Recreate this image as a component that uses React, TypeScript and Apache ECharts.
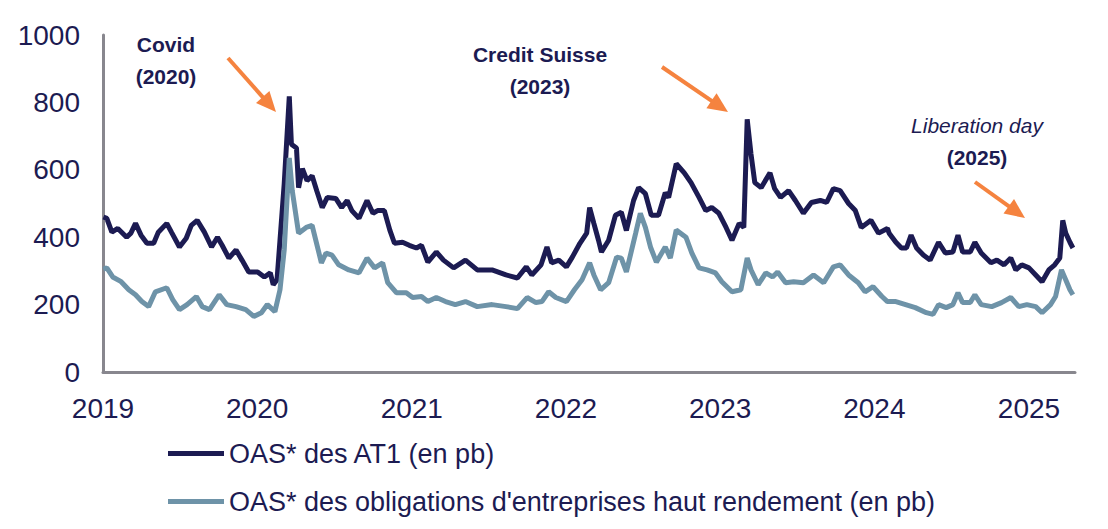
import React, { useEffect, useRef } from "react";
import * as echarts from "echarts";

const NAVY = "#1c1b52";
const SLATE = "#6e93a8";
const ORANGE = "#f5833f";
const AXIS_GREY = "#88878e";
const FONT = "'Liberation Sans', Arial, sans-serif";

const seriesNames = [
  "OAS* des AT1 (en pb)",
  "OAS* des obligations d'entreprises haut rendement (en pb)",
];

const yearTicks = [2019, 2020, 2021, 2022, 2023, 2024, 2025];
const axisStart = "2019-01-01";
const axisEnd = "2025-04-20";

const at1Dates = [
  "2019-01-02", "2019-01-10", "2019-01-22", "2019-02-05", "2019-02-26", "2019-03-08", "2019-03-19", "2019-04-01",
  "2019-04-15", "2019-05-01", "2019-05-12", "2019-06-01", "2019-06-12", "2019-07-01", "2019-07-17", "2019-07-29",
  "2019-08-12", "2019-08-29", "2019-09-15", "2019-09-29", "2019-10-10", "2019-10-26", "2019-11-12", "2019-11-26",
  "2019-12-12", "2020-01-02", "2020-01-18", "2020-02-01", "2020-02-08", "2020-02-17", "2020-02-24", "2020-03-05",
  "2020-03-17", "2020-03-22", "2020-04-03", "2020-04-08", "2020-04-17", "2020-04-28", "2020-05-10", "2020-05-21",
  "2020-06-03", "2020-06-15", "2020-07-05", "2020-07-19", "2020-08-01", "2020-08-12", "2020-08-29", "2020-09-17",
  "2020-10-01", "2020-10-12", "2020-10-28", "2020-11-10", "2020-11-21", "2020-12-10", "2020-12-26", "2021-01-12",
  "2021-01-24", "2021-02-08", "2021-02-28", "2021-03-17", "2021-04-10", "2021-05-08", "2021-06-05", "2021-07-10",
  "2021-08-12", "2021-09-08", "2021-09-29", "2021-10-12", "2021-11-03", "2021-11-17", "2021-11-28", "2021-12-15",
  "2022-01-02", "2022-01-16", "2022-02-03", "2022-02-19", "2022-02-26", "2022-03-08", "2022-03-19", "2022-03-26",
  "2022-04-12", "2022-04-28", "2022-05-12", "2022-05-24", "2022-06-10", "2022-06-22", "2022-07-08", "2022-07-22",
  "2022-08-08", "2022-08-24", "2022-09-01", "2022-09-19", "2022-10-08", "2022-10-24", "2022-11-12", "2022-11-28",
  "2022-12-12", "2022-12-29", "2023-01-15", "2023-01-29", "2023-02-15", "2023-02-26", "2023-03-06", "2023-03-15",
  "2023-03-24", "2023-04-08", "2023-04-29", "2023-05-10", "2023-05-24", "2023-06-12", "2023-06-28", "2023-07-17",
  "2023-08-05", "2023-08-26", "2023-09-10", "2023-09-26", "2023-10-12", "2023-11-01", "2023-11-17", "2023-12-01",
  "2023-12-24", "2024-01-11", "2024-02-01", "2024-02-05", "2024-02-21", "2024-03-05", "2024-03-17", "2024-03-28",
  "2024-04-10", "2024-04-26", "2024-05-12", "2024-06-01", "2024-06-17", "2024-07-05", "2024-07-17", "2024-07-28",
  "2024-08-15", "2024-08-26", "2024-09-10", "2024-10-03", "2024-10-17", "2024-11-03", "2024-11-19", "2024-12-01",
  "2024-12-15", "2025-01-01", "2025-01-17", "2025-02-01", "2025-02-17", "2025-03-03", "2025-03-15", "2025-03-22",
  "2025-03-29", "2025-04-08", "2025-04-15",
];
const at1Values = [
  460, 456, 415, 426, 400, 412, 441, 406,
  382, 382, 415, 441, 415, 371, 397, 435,
  450, 415, 371, 400, 376, 338, 362, 332,
  297, 297, 282, 294, 259, 274, 391, 559,
  818, 676, 665, 547, 603, 568, 582, 538,
  488, 518, 515, 488, 509, 479, 456, 509,
  471, 479, 479, 421, 382, 385, 376, 368,
  376, 326, 356, 332, 309, 332, 303, 303,
  288, 279, 312, 288, 318, 371, 324, 332,
  312, 341, 382, 412, 488, 441, 391, 356,
  391, 465, 474, 420, 509, 547, 529, 465,
  465, 532, 518, 618, 591, 562, 518, 479,
  488, 471, 429, 391, 441, 429, 750, 647,
  562, 547, 591, 544, 518, 538, 509, 471,
  503, 509, 503, 544, 538, 500, 479, 429,
  450, 412, 426, 412, 385, 368, 368, 406,
  368, 347, 332, 385, 353, 356, 406, 356,
  356, 385, 353, 324, 332, 318, 338, 303,
  318, 309, 288, 268, 303, 318, 338, 450,
  412, 385, 368,
];

const hyDates = [
  "2019-01-02", "2019-01-10", "2019-01-24", "2019-02-13", "2019-03-03", "2019-03-19", "2019-04-03", "2019-04-19",
  "2019-05-05", "2019-06-01", "2019-06-15", "2019-07-01", "2019-07-19", "2019-08-10", "2019-08-24", "2019-09-10",
  "2019-10-03", "2019-10-21", "2019-11-12", "2019-12-05", "2019-12-24", "2020-01-11", "2020-01-25", "2020-02-12",
  "2020-02-24", "2020-03-05", "2020-03-17", "2020-03-24", "2020-04-08", "2020-04-26", "2020-05-10", "2020-06-01",
  "2020-06-12", "2020-06-26", "2020-07-12", "2020-08-05", "2020-08-29", "2020-09-17", "2020-10-05", "2020-10-24",
  "2020-11-05", "2020-11-26", "2020-12-19", "2021-01-03", "2021-01-24", "2021-02-08", "2021-02-28", "2021-03-22",
  "2021-04-14", "2021-05-08", "2021-06-05", "2021-07-10", "2021-08-12", "2021-09-08", "2021-10-01", "2021-10-22",
  "2021-11-05", "2021-11-21", "2021-12-08", "2022-01-02", "2022-01-21", "2022-02-08", "2022-02-26", "2022-03-08",
  "2022-03-24", "2022-04-12", "2022-05-01", "2022-05-12", "2022-05-24", "2022-06-15", "2022-06-26", "2022-07-08",
  "2022-07-20", "2022-08-03", "2022-08-24", "2022-09-05", "2022-09-19", "2022-10-12", "2022-10-26", "2022-11-12",
  "2022-12-01", "2022-12-21", "2023-01-05", "2023-01-29", "2023-02-19", "2023-03-06", "2023-03-15", "2023-04-01",
  "2023-04-19", "2023-05-05", "2023-05-17", "2023-06-05", "2023-06-24", "2023-07-17", "2023-08-10", "2023-09-03",
  "2023-09-26", "2023-10-12", "2023-11-01", "2023-11-24", "2023-12-10", "2023-12-29", "2024-01-19", "2024-02-01",
  "2024-02-21", "2024-03-15", "2024-04-07", "2024-05-03", "2024-05-19", "2024-06-01", "2024-06-19", "2024-07-05",
  "2024-07-17", "2024-07-28", "2024-08-15", "2024-08-26", "2024-09-10", "2024-10-05", "2024-10-28", "2024-11-19",
  "2024-12-08", "2024-12-27", "2025-01-17", "2025-02-01", "2025-02-21", "2025-03-05", "2025-03-19", "2025-03-29",
  "2025-04-08", "2025-04-15",
];
const hyValues = [
  305, 309, 282, 268, 244, 229, 209, 194,
  238, 250, 215, 185, 200, 224, 194, 185,
  229, 200, 194, 185, 165, 176, 200, 179,
  244, 362, 635, 538, 412, 429, 435, 324,
  353, 347, 318, 303, 294, 338, 309, 324,
  265, 235, 235, 221, 224, 209, 221, 209,
  200, 209, 194, 200, 194, 188, 221, 206,
  209, 238, 221, 209, 244, 274, 324, 288,
  244, 265, 341, 338, 297, 412, 471, 429,
  371, 326, 371, 338, 421, 400, 353, 309,
  303, 294, 268, 238, 244, 338, 303, 259,
  294, 282, 297, 265, 268, 265, 288, 265,
  312, 318, 288, 265, 238, 253, 224, 209,
  209, 200, 191, 176, 171, 200, 191, 200,
  235, 206, 206, 229, 200, 194, 206, 221,
  194, 200, 194, 176, 200, 224, 303, 274,
  244, 229,
];

const annotations = [
  { lines: ["Covid", "(2020)"], italic: false, cx: 166, cy: 44, arrow: [228, 58, 276, 112] },
  { lines: ["Credit Suisse", "(2023)"], italic: false, cx: 540, cy: 54, arrow: [662, 67, 728, 112] },
  { lines: ["Liberation day", "(2025)"], italic: true, cx: 977, cy: 125, arrow: [975, 182, 1025, 218] },
];

function ts(d: string): number {
  const [y, m, day] = d.split("-").map(Number);
  return Date.UTC(y, m - 1, day);
}

function buildGraphics() {
  const els: any[] = [];
  annotations.forEach((a) => {
    a.lines.forEach((t, i) => {
      els.push({
        type: "text",
        x: a.cx,
        y: a.cy + i * 32,
        style: {
          text: t,
          fill: NAVY,
          fontFamily: FONT,
          fontSize: 21,
          fontWeight: i === 0 && a.italic ? "normal" : "bold",
          fontStyle: i === 0 && a.italic ? "italic" : "normal",
          textAlign: "center",
          textVerticalAlign: "middle",
          align: "center",
          verticalAlign: "middle",
        },
      });
    });
    const [x1, y1, x2, y2] = a.arrow;
    const dx = x2 - x1;
    const dy = y2 - y1;
    const len = Math.sqrt(dx * dx + dy * dy);
    const ux = dx / len;
    const uy = dy / len;
    const headLen = 20;
    const headW = 9;
    const bx = x2 - ux * headLen;
    const by = y2 - uy * headLen;
    els.push({
      type: "line",
      shape: { x1, y1, x2: bx + ux * 2, y2: by + uy * 2 },
      style: { stroke: ORANGE, lineWidth: 4 },
    });
    els.push({
      type: "polygon",
      shape: {
        points: [
          [x2, y2],
          [bx - uy * headW, by + ux * headW],
          [bx + uy * headW, by - ux * headW],
        ],
      },
      style: { fill: ORANGE },
    });
  });
  return els;
}

export default function App() {
  const ref = useRef<HTMLDivElement>(null);
  useEffect(() => {
    document.body.style.margin = "0";
    const chart = echarts.init(ref.current!, null, { renderer: "svg" });
    const yearValues = yearTicks.map((y) => Date.UTC(y, 0, 1));
    chart.setOption({
      animation: false,
      grid: { left: 103, right: 33, top: 35, bottom: 157 },
      xAxis: {
        type: "value",
        min: ts(axisStart),
        max: ts(axisEnd),
        axisLine: { show: true, lineStyle: { color: AXIS_GREY, width: 3 } },
        axisTick: { show: false },
        splitLine: { show: false },
        axisLabel: {
          customValues: yearValues,
          formatter: (v: number) => String(new Date(v).getUTCFullYear()),
          color: NAVY,
          fontFamily: FONT,
          fontSize: 28,
          margin: 22,
        },
      },
      yAxis: {
        type: "value",
        min: 0,
        max: 1000,
        interval: 200,
        axisLine: { show: true, lineStyle: { color: AXIS_GREY, width: 3 } },
        axisTick: { show: false },
        splitLine: { show: false },
        axisLabel: {
          formatter: (v: number) => String(v),
          color: NAVY,
          fontFamily: FONT,
          fontSize: 28,
          margin: 23,
        },
      },
      legend: {
        orient: "vertical",
        left: 163,
        top: 435,
        itemWidth: 56,
        itemHeight: 5,
        itemGap: 21,
        icon: "rect",
        textStyle: { color: NAVY, fontFamily: FONT, fontSize: 27 },
        data: seriesNames,
      },
      series: [
        {
          name: seriesNames[0],
          type: "line",
          showSymbol: false,
          color: NAVY,
          lineStyle: { width: 5, color: NAVY },
          data: at1Dates.map((d, i) => [ts(d), at1Values[i]]),
        },
        {
          name: seriesNames[1],
          type: "line",
          showSymbol: false,
          color: SLATE,
          lineStyle: { width: 5, color: SLATE },
          data: hyDates.map((d, i) => [ts(d), hyValues[i]]),
        },
      ],
      graphic: buildGraphics(),
    });
    return () => chart.dispose();
  }, []);
  return (
    <div
      ref={ref}
      style={{ position: "absolute", left: 0, top: 0, width: 1108, height: 529 }}
    />
  );
}
